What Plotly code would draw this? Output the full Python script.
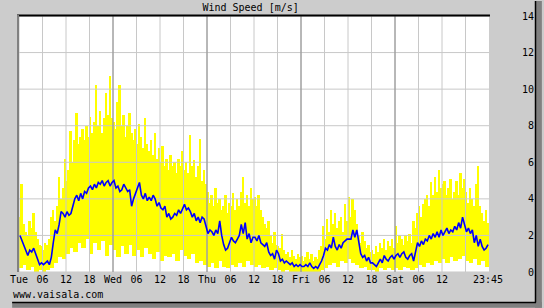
import numpy as np
import pandas as pd
import plotly.graph_objects as go

# ---------------- data ----------------
start = pd.Timestamp("2024-01-02 00:00")   # a Tuesday
end = pd.Timestamp("2024-01-07 00:00")

# 30-minute average wind speed [m/s]
wind_avg = [
    2.0,1.7,1.4,1.2,0.9,1.2,1.1,1.3,1.0,0.6,0.4,0.5,0.4,0.5,0.6,0.4,
    0.8,1.6,2.3,2.1,2.6,3.3,3.2,3.0,3.3,3.1,3.2,3.6,4.0,4.2,3.9,4.3,
    4.0,4.4,4.3,4.6,4.7,4.5,4.8,4.6,4.9,4.8,5.0,4.7,4.9,5.0,4.7,4.9,
    5.0,4.6,4.7,4.4,4.5,4.8,4.6,4.4,4.5,3.6,4.0,4.3,
    4.5,4.9,4.2,4.0,4.3,3.9,4.1,3.9,4.2,4.0,3.6,3.8,3.5,3.4,3.6,3.0,3.2,2.9,
    3.0,3.2,3.1,3.4,3.2,3.5,3.7,3.4,3.5,3.3,3.0,3.2,2.8,3.0,2.7,3.0,2.9,2.5,
    2.1,2.3,2.2,2.0,2.3,2.1,2.8,2.0,1.5,1.2,1.3,1.6,1.9,1.7,1.6,1.8,2.0,2.6,2.1,2.7,1.8,2.1,1.6,1.9,
    1.9,1.7,2.0,1.6,1.5,1.4,1.6,1.1,0.9,1.0,0.7,1.2,1.0,0.6,0.7,0.5,0.6,0.5,0.4,0.5,0.3,0.4,0.3,0.4,
    0.3,0.3,0.4,0.3,0.5,0.3,0.2,0.3,0.2,0.4,0.6,0.9,1.3,1.2,1.5,1.3,1.9,1.4,1.2,1.5,1.3,1.6,1.7,1.8,
    1.8,1.8,2.3,1.9,2.3,1.7,1.0,0.8,0.9,0.6,0.8,0.5,
    0.5,0.4,0.3,0.5,0.7,0.5,0.9,0.7,0.6,0.8,0.9,0.7,
    0.9,1.0,0.8,1.0,1.1,0.8,0.7,0.9,1.0,0.6,1.2,1.6,1.4,1.7,1.5,1.8,1.7,2.0,1.8,2.1,1.9,2.2,1.9,2.3,
    2.0,2.2,2.4,2.1,2.3,2.2,2.5,2.3,2.7,2.4,3.0,2.6,2.2,2.4,2.1,2.3,1.6,2.0,1.4,1.8,1.4,1.2,1.3,1.5,
]

# 30-minute maximum (gust) [m/s]
wind_max = [
    3.0,4.8,2.6,2.2,2.0,2.8,2.4,3.2,2.2,1.8,1.5,1.4,1.2,1.6,1.5,1.8,
    3.0,3.4,2.8,3.6,5.2,4.0,4.6,6.2,5.0,5.6,7.7,6.0,7.2,8.7,7.0,7.4,
    7.8,7.2,8.0,7.4,8.5,7.6,8.2,10.2,8.0,8.8,7.6,8.4,9.8,8.6,10.7,8.4,
    8.2,7.8,9.3,10.2,8.0,8.6,7.4,8.0,8.7,7.6,7.2,7.8,
    7.0,8.1,7.4,6.8,8.4,7.0,6.6,7.2,6.4,7.6,6.2,6.8,6.0,6.9,5.8,6.2,5.6,6.4,
    5.8,6.0,5.4,6.2,5.8,6.6,5.6,6.0,5.4,7.5,5.8,6.1,5.2,5.8,7.3,5.0,5.6,4.8,
    4.4,3.8,4.2,3.6,4.6,3.8,4.0,3.4,3.6,4.2,3.2,3.8,3.6,4.3,3.4,4.0,3.6,4.4,5.2,3.8,4.2,3.6,4.6,4.0,
    4.1,3.6,4.2,3.4,3.0,2.6,2.4,2.8,2.0,1.6,2.2,1.5,1.4,1.3,2.1,1.2,1.0,1.1,0.8,1.2,0.9,0.7,1.0,0.8,
    0.9,0.6,0.8,1.1,0.7,1.0,0.6,0.8,0.7,1.2,1.4,2.5,1.8,2.9,2.2,3.4,2.6,3.2,2.4,2.8,3.0,2.2,3.7,2.8,
    4.1,3.0,4.0,3.4,2.6,2.0,1.6,2.2,1.7,1.3,1.5,1.1,
    1.2,1.0,1.4,1.1,1.6,1.3,1.8,1.2,1.7,1.4,1.8,1.3,
    2.5,1.6,2.0,1.8,1.5,2.0,1.7,2.1,1.6,2.8,2.4,3.2,3.6,3.0,3.7,4.0,4.2,3.6,4.9,4.2,5.2,4.4,5.6,4.6,
    4.8,5.0,4.2,4.6,5.1,4.0,4.4,5.0,4.2,5.4,4.6,5.1,4.4,3.8,4.6,4.0,3.6,4.8,5.8,3.6,3.2,2.8,3.4,2.7,
]

# hourly minimum (lull) [m/s]
wind_min_hourly = [
    0.2,0.4,0.1,0.3,0.0,0.1,0.0,0.1,
    0.2,0.5,0.8,0.7,1.0,1.3,1.1,1.6,
    1.3,1.8,1.0,1.6,1.2,1.7,0.9,1.5,
    1.2,0.8,1.4,1.0,1.5,0.9,
    1.2,0.8,1.3,1.0,0.7,1.1,0.6,0.9,0.8,1.0,0.6,1.2,0.9,0.7,1.0,0.5,0.6,0.4,
    0.3,0.5,0.2,0.6,0.3,0.2,0.4,0.3,0.5,0.3,0.6,0.4,
    0.3,0.4,0.2,0.3,0.1,0.2,0.1,0.0,0.1,0.0,0.0,0.0,
    0.0,0.0,0.0,0.0,0.0,0.1,0.2,0.4,0.5,0.3,0.6,0.5,
    0.7,0.5,0.4,0.2,0.3,0.1,
    0.1,0.0,0.2,0.1,0.2,0.1,
    0.2,0.1,0.3,0.2,0.1,0.2,0.4,0.3,0.5,0.4,0.6,0.5,
    0.7,0.5,0.8,0.6,0.7,0.9,0.6,0.5,0.7,0.4,0.6,0.3,
]

y_ticks = [0, 2, 4, 6, 8, 10, 12, 14]
y_tick_text = ["\u00a00", "\u00a02", "\u00a04", "\u00a06", "\u00a08", "10", "12", "14"]

x_tick_text = ["Tue", "06", "12", "18",
               "Wed", "06", "12", "18",
               "Thu", "06", "12", "18",
               "Fri", "06", "12", "18",
               "Sat", "06", "12", "",
               "23:45"]

# ---------------- derived positions ----------------
half_hour = pd.Timedelta(minutes=30)
n = len(wind_avg)
t_centers = [start + half_hour * (i + 0.5) for i in range(n)]
wind_min = np.repeat(np.array(wind_min_hourly), 2)
wind_max_a = np.array(wind_max)
six_h = list(pd.date_range(start, periods=20, freq="6h"))
x_tick_vals = six_h + [start + pd.Timedelta(days=4, hours=23, minutes=45)]
day_vals = list(pd.date_range(start, periods=6, freq="1D"))

FONT = "DejaVu Sans Mono"
GRID = "#c8c8c8"
DAYGRID = "#8c8c8c"

fig = go.Figure()

# yellow min..max range
fig.add_trace(go.Bar(
    x=t_centers, y=wind_max_a - wind_min, base=wind_min,
    width=1800000, marker=dict(color="#ffff00", line=dict(width=0)),
    hoverinfo="skip"))

# grid lines (drawn over the yellow, under the blue)
hx, hy = [], []
for v in y_ticks:
    hx += [start, end, None]
    hy += [v, v, None]
fig.add_trace(go.Scatter(x=hx, y=hy, mode="lines",
                         line=dict(color=GRID, width=1), hoverinfo="skip"))
vx, vy = [], []
for t in six_h:
    vx += [t, t, None]
    vy += [0, 14, None]
fig.add_trace(go.Scatter(x=vx, y=vy, mode="lines",
                         line=dict(color=GRID, width=1), hoverinfo="skip"))
dx, dy = [], []
for t in day_vals[1:-1]:
    dx += [t, t, None]
    dy += [0, 14, None]
fig.add_trace(go.Scatter(x=dx, y=dy, mode="lines",
                         line=dict(color=DAYGRID, width=1), hoverinfo="skip"))

# blue average
fig.add_trace(go.Scatter(x=t_centers, y=wind_avg, mode="lines",
                         line=dict(color="#0000ff", width=1.6), hoverinfo="skip"))

W, H = 544, 308
L, R, T, B = 10, 54, 15, 36
PW, PH = W - L - R, H - T - B


def px(xp):
    return (xp - L) / PW


def py(yp):
    return (H - B - yp) / PH


shapes = [
    # right and bottom drop shadow
    dict(type="rect", xref="paper", yref="paper", x0=px(537), x1=px(544), y0=py(0), y1=py(308),
         fillcolor="#808080", line=dict(width=0), layer="above"),
    dict(type="rect", xref="paper", yref="paper", x0=px(3), x1=px(544), y0=py(302), y1=py(308),
         fillcolor="#808080", line=dict(width=0), layer="above"),
    dict(type="line", xref="paper", yref="paper", x0=px(537.5), x1=px(537.5), y0=py(0), y1=py(302.5),
         line=dict(color="#000000", width=1.5), layer="above"),
    dict(type="line", xref="paper", yref="paper", x0=px(3), x1=px(538), y0=py(302.5), y1=py(302.5),
         line=dict(color="#000000", width=1.5), layer="above"),
    # inset frame of the plot area
    dict(type="line", xref="paper", yref="paper", x0=px(8), x1=px(491), y0=py(14.5), y1=py(14.5),
         line=dict(color="#000000", width=2), layer="above"),
    dict(type="line", xref="paper", yref="paper", x0=px(9), x1=px(9), y0=py(14), y1=py(272),
         line=dict(color="#808080", width=2), layer="above"),
]

fig.update_layout(
    width=W, height=H,
    margin=dict(l=L, r=R, t=T, b=B, pad=0),
    paper_bgcolor="#cccccc", plot_bgcolor="#ffffff",
    showlegend=False, bargap=0,
    font=dict(family=FONT, size=10, color="#000000"),
    title=dict(text="Wind Speed [m/s]", x=px(246.5), xanchor="center", xref="paper",
               y=1 - 7 / H, yref="container", yanchor="middle",
               font=dict(family=FONT, size=10, color="#000000")),
    xaxis=dict(type="date", range=[start, end], tickmode="array",
               tickvals=x_tick_vals, ticktext=x_tick_text, tickangle=0,
               showgrid=False, zeroline=False, showline=False, ticks="",
               tickfont=dict(family=FONT, size=10, color="#000000")),
    yaxis=dict(range=[0, 14], side="right", tickmode="array",
               tickvals=y_ticks, ticktext=y_tick_text,
               showgrid=False, zeroline=False, showline=False, ticks="",
               ticklabelstandoff=32,
               tickfont=dict(family=FONT, size=10, color="#000000")),
    shapes=shapes,
    annotations=[dict(text="www.vaisala.com", xref="paper", yref="paper",
                      x=px(2), y=py(295), xanchor="left", yanchor="middle",
                      showarrow=False, font=dict(family=FONT, size=10, color="#000000"))],
)

fig.write_html("out.html")
